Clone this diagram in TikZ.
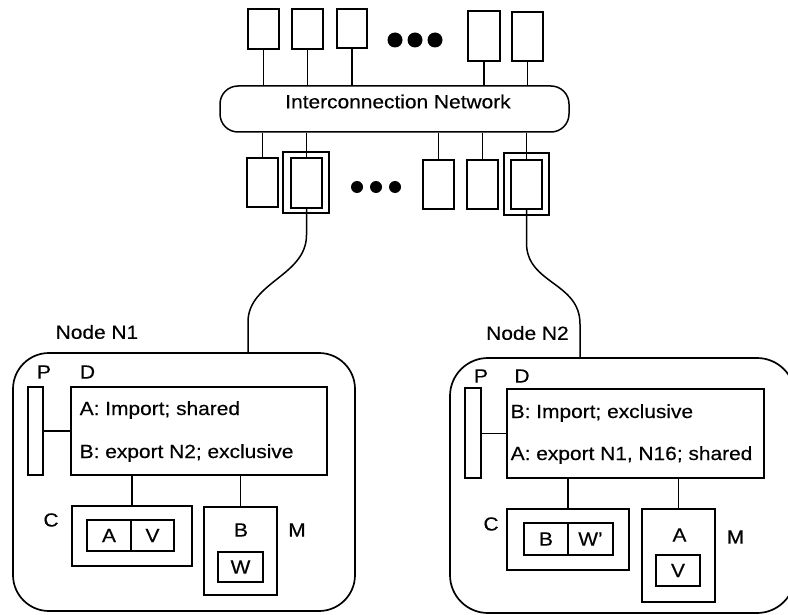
\documentclass[tikz,border=0pt]{standalone}
\usepackage{fontspec}
\setmainfont[FakeStretch=1.1,FakeBold=0.35]{Liberation Sans}
\begin{document}
\begin{tikzpicture}[x=1pt,y=-1pt,line width=1.5pt,
  every node/.style={font=\fontsize{19}{22}\selectfont,inner sep=0pt},
  bx/.style 2 args={draw,rectangle,inner sep=0pt,minimum width=#1pt,minimum height=#2pt},
  dot/.style={circle,fill,inner sep=0pt,minimum size=#1pt},
  nodebox/.style={draw,line width=1.7pt,rounded corners=36pt}]
\clip (0,0) rectangle (788,615);

% processors attached above the network
\node[bx={31}{40}] (t1) at (263.5,29) {};
\node[bx={31}{40}] (t2) at (307.5,29) {};
\node[bx={30}{39}] (t3) at (352,28.5) {};
\node[bx={32}{50}] (t4) at (484,36) {};
\node[bx={31}{49}] (t5) at (527.5,36.5) {};
\node[dot=15] (td1) at (395,40) {};
\node[dot=15] (td2) at (415,40) {};
\node[dot=15] (td3) at (435,40) {};

% interconnection network
\node[draw,rounded corners=18pt,minimum width=349pt,minimum height=46pt] (net) at (394.5,109) {};
\node (netlabel) at (398,101.5) {Interconnection Network};

\foreach \b in {t1,t2,t3,t4,t5} \draw (\b.south) -- (\b.south |- net.north);

% processors attached below the network
\node[bx={31}{49}] (b1) at (262.5,182.5) {};
\node[bx={46}{61}] (b2out) at (306,182.5) {};
\node[bx={31}{50}] (b2in) at (306.5,183) {};
\node[bx={31}{49}] (b3) at (438.5,184.5) {};
\node[bx={31}{49}] (b4) at (482.5,184.5) {};
\node[bx={45}{62}] (b5out) at (526.5,184) {};
\node[bx={31}{49}] (b5in) at (526.5,184.5) {};
\node[dot=12] (bd1) at (357,187) {};
\node[dot=12] (bd2) at (376,187) {};
\node[dot=12] (bd3) at (395,187) {};

\foreach \b in {b1,b2in,b3,b4,b5in} \draw (\b.north) -- (\b.north |- net.south);

% ---------------- Node N1 ----------------
\node[nodebox,minimum width=342pt,minimum height=258pt] (n1) at (184,482) {};
\node (n1label) at (97,332) {Node N1};
\node[bx={15}{88}] (p1) at (35.5,431) {};
\node (p1label) at (44,372) {P};
\node[bx={256}{88}] (d1) at (199,431) {};
\node (d1label) at (87.5,372) {D};
\node[anchor=base west] (d1a) at (79,415) {A: Import; shared};
\node[anchor=base west] (d1b) at (79,458) {B: export N2; exclusive};
\node[bx={120}{60}] (c1) at (132,536) {};
\node (c1label) at (51,520) {C};
\node[bx={44}{31}] (c1a) at (109,535.5) {A};
\node[bx={43}{31}] (c1v) at (152.5,535.5) {V};
\node[bx={73}{88}] (m1) at (240.5,551) {};
\node (m1b) at (241,530) {B};
\node[bx={45}{30}] (m1w) at (240.5,567) {W};
\node (m1label) at (297,530) {M};
\draw (p1.east |- d1.west) -- (d1.west);
\draw (c1.north) -- (c1.north |- d1.south);
\draw (m1.north) -- (m1.north |- d1.south);

% ---------------- Node N2 ----------------
\node[nodebox,minimum width=345pt,minimum height=255pt,rounded corners=38pt] (n2) at (622.5,485.5) {};
\node (n2label) at (527.5,333) {Node N2};
\node[bx={16}{90}] (p2) at (473,433) {};
\node (p2label) at (481,376) {P};
\node[bx={257}{89}] (d2) at (635.5,433.5) {};
\node (d2label) at (522,376) {D};
\node[anchor=base west] (d2a) at (510,418) {B: Import; exclusive};
\node[anchor=base west] (d2b) at (510,460) {A: export N1, N16; shared};
\node[bx={122}{61}] (c2) at (568,539.5) {};
\node (c2label) at (491,524) {C};
\node[bx={44}{32}] (c2b) at (546,539) {B};
\node[bx={45}{32}] (c2w) at (590.5,539) {W\textquoteright};
\node[bx={73}{93}] (m2) at (678.5,555.5) {};
\node (m2a) at (679.5,535) {A};
\node[bx={44}{31}] (m2v) at (678,570.5) {V};
\node (m2label) at (735.5,537) {M};
\draw (p2.east |- d2.west) -- (d2.west);
\draw (c2.north) -- (c2.north |- d2.south);
\draw (m2.north) -- (m2.north |- d2.south);

% links from the network interfaces down to the nodes
\coordinate (j1) at (248,0);
\coordinate (j2) at (580,0);
\draw (b2in.south) -- (306.5,235) .. controls (306.5,276) and (248,282) .. (248,322) -- (n1.north -| j1);
\draw (b5in.south) -- (526.5,243) .. controls (526.5,284) and (580,282) .. (580,324) -- (n2.north -| j2);
\end{tikzpicture}
\end{document}
